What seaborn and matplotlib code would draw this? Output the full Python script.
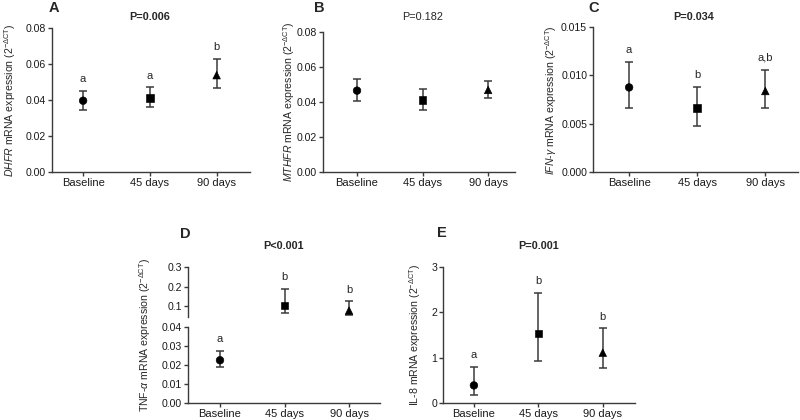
import matplotlib
matplotlib.use('Agg')
import matplotlib.pyplot as plt
import seaborn as sns
import pandas as pd
import numpy as np
from matplotlib.ticker import FormatStrFormatter

# ---------------- data ----------------
categories = ['Baseline', '45 days', '90 days']
marker_shapes = ['o', 's', '^']

dhfr_mean = [0.0396, 0.0411, 0.0538]
dhfr_low = [0.0345, 0.0359, 0.0464]
dhfr_high = [0.0452, 0.0470, 0.0630]
dhfr_letters = ['a', 'a', 'b']

mthfr_mean = [0.0465, 0.0413, 0.0469]
mthfr_low = [0.0404, 0.0352, 0.0423]
mthfr_high = [0.0531, 0.0474, 0.0522]

ifng_mean = [0.00875, 0.00659, 0.00838]
ifng_low = [0.00666, 0.00480, 0.00666]
ifng_high = [0.01140, 0.00882, 0.01060]
ifng_letters = ['a', 'b', 'a,b']

tnfa_mean = [0.0225, 0.1035, 0.0770]
tnfa_low = [0.0190, 0.0650, 0.0540]
tnfa_high = [0.0275, 0.1890, 0.1240]
tnfa_letters = ['a', 'b', 'b']

il8_mean = [0.388, 1.53, 1.11]
il8_low = [0.168, 0.93, 0.768]
il8_high = [0.805, 2.42, 1.646]
il8_letters = ['a', 'b', 'b']

p_texts = ['P=0.006', 'P=0.182', 'P=0.034', 'P<0.001', 'P=0.001']
p_bold = [True, False, True, True, True]
panel_names = ['A', 'B', 'C', 'D', 'E']

# ---------------- style ----------------
sns.set_theme(style='ticks')
plt.rcParams['font.family'] = ['Liberation Sans', 'DejaVu Sans']
plt.rcParams['mathtext.fontset'] = 'custom'
plt.rcParams['mathtext.rm'] = 'Liberation Sans'
plt.rcParams['mathtext.it'] = 'Liberation Sans:italic'
plt.rcParams['mathtext.bf'] = 'Liberation Sans:bold'

W, H = 800, 420
fig = plt.figure(figsize=(8, 4.2), dpi=100)
SPINE = '#3a3a3a'


def px_axes(left, top, right, bottom):
    return fig.add_axes([left / W, 1 - bottom / H, (right - left) / W, (bottom - top) / H])


def ftext(x, y, s, **kw):
    fig.text(x / W, 1 - y / H, s, **kw)


def style_axes(ax, xlim, xaxis=True):
    sns.despine(ax=ax)
    for sp in ['left', 'bottom']:
        ax.spines[sp].set_color(SPINE)
        ax.spines[sp].set_linewidth(1.0)
    ax.tick_params(axis='both', colors=SPINE, labelcolor='#1a1a1a',
                   length=3, width=1.0, pad=1.2)
    ax.tick_params(axis='x', labelsize=8)
    ax.tick_params(axis='y', labelsize=7.6)
    ax.set_xlim(*xlim)
    ax.set_xlabel('')
    ax.set_ylabel('')
    if not xaxis:
        ax.spines['bottom'].set_visible(False)
        ax.tick_params(axis='x', bottom=False, labelbottom=False)


def draw(ax, mean, low, high, letters=None):
    df = pd.DataFrame({'time': categories, 'value': mean})
    sns.scatterplot(data=df, x='time', y='value', style='time',
                    markers=dict(zip(categories, marker_shapes)),
                    color='black', edgecolor='black', s=30, ax=ax,
                    legend=False, zorder=3)
    m = np.array(mean)
    yerr = [m - np.array(low), np.array(high) - m]
    ax.errorbar(x=categories, y=mean, yerr=yerr, fmt='none', ecolor=SPINE,
                elinewidth=1.1, capsize=3, capthick=1.1, zorder=2)
    if letters:
        for c, h, t in zip(categories, high, letters):
            ax.annotate(t, xy=(c, h), xytext=(0, 8.5), textcoords='offset points',
                        ha='center', va='center', fontsize=8)


# ---- A ----
axA = px_axes(52, 28, 250, 172)
draw(axA, dhfr_mean, dhfr_low, dhfr_high, dhfr_letters)
axA.set_ylim(0, 0.08)
axA.set_yticks([0, 0.02, 0.04, 0.06, 0.08])
axA.yaxis.set_major_formatter(FormatStrFormatter('%.2f'))
style_axes(axA, (-0.466, 2.5))

# ---- B ----
axB = px_axes(323, 32, 515, 172)
draw(axB, mthfr_mean, mthfr_low, mthfr_high)
axB.set_ylim(0, 0.08)
axB.set_yticks([0, 0.02, 0.04, 0.06, 0.08])
axB.yaxis.set_major_formatter(FormatStrFormatter('%.2f'))
style_axes(axB, (-0.519, 2.41))

# ---- C ----
axC = px_axes(593, 27, 798, 172)
draw(axC, ifng_mean, ifng_low, ifng_high, ifng_letters)
axC.set_ylim(0, 0.015)
axC.set_yticks([0, 0.005, 0.010, 0.015])
axC.yaxis.set_major_formatter(FormatStrFormatter('%.3f'))
style_axes(axC, (-0.53, 2.48))

# ---- D (broken axis) ----
axDu = px_axes(188, 267, 380, 317)
draw(axDu, tnfa_mean, tnfa_low, tnfa_high, tnfa_letters)
axDu.set_ylim(0.044, 0.3)
axDu.set_yticks([0.1, 0.2, 0.3])
axDu.yaxis.set_major_formatter(FormatStrFormatter('%.1f'))
style_axes(axDu, (-0.496, 2.48), xaxis=False)

axDl = px_axes(188, 327, 380, 403)
draw(axDl, tnfa_mean, tnfa_low, tnfa_high, tnfa_letters)
axDl.set_ylim(0, 0.04)
axDl.set_yticks([0, 0.01, 0.02, 0.03, 0.04])
axDl.yaxis.set_major_formatter(FormatStrFormatter('%.2f'))
style_axes(axDl, (-0.496, 2.48))

# ---- E ----
axE = px_axes(443, 267, 635, 403)
draw(axE, il8_mean, il8_low, il8_high, il8_letters)
axE.set_ylim(0, 3)
axE.set_yticks([0, 1, 2, 3])
style_axes(axE, (-0.48, 2.5))

# ---- y labels ----
sup = r'(2$^{-\Delta \mathrm{CT}}$)'
ylabels = [r'$\it{DHFR}$ mRNA expression ' + sup,
           r'$\it{MTHFR}$ mRNA expression ' + sup,
           r'$\it{IFN}$-$\gamma$ mRNA expression ' + sup,
           r'TNF-$\alpha$ mRNA expression ' + sup,
           r'IL-8 mRNA expression ' + sup]
ylab_pos = [(10, 100), (289, 102), (551, 100), (145, 335), (415, 335)]
for (x, y), s in zip(ylab_pos, ylabels):
    ftext(x, y, s, rotation=90, ha='center', va='center', fontsize=7.6)

# ---- panel letters ----
panel_pos = [(54, 8), (319, 8), (594, 8), (185, 234), (442, 233)]
for (x, y), s in zip(panel_pos, panel_names):
    ftext(x, y, s, ha='center', va='center', fontsize=10.5, fontweight='bold')

# ---- P values ----
p_pos = [(150, 17), (423, 17), (694, 17), (283, 246), (539, 246)]
for (x, y), s, b in zip(p_pos, p_texts, p_bold):
    ftext(x, y, s, ha='center', va='center', fontsize=7.8,
          fontweight='bold' if b else 'normal')

fig.savefig('out.png', dpi=100)
